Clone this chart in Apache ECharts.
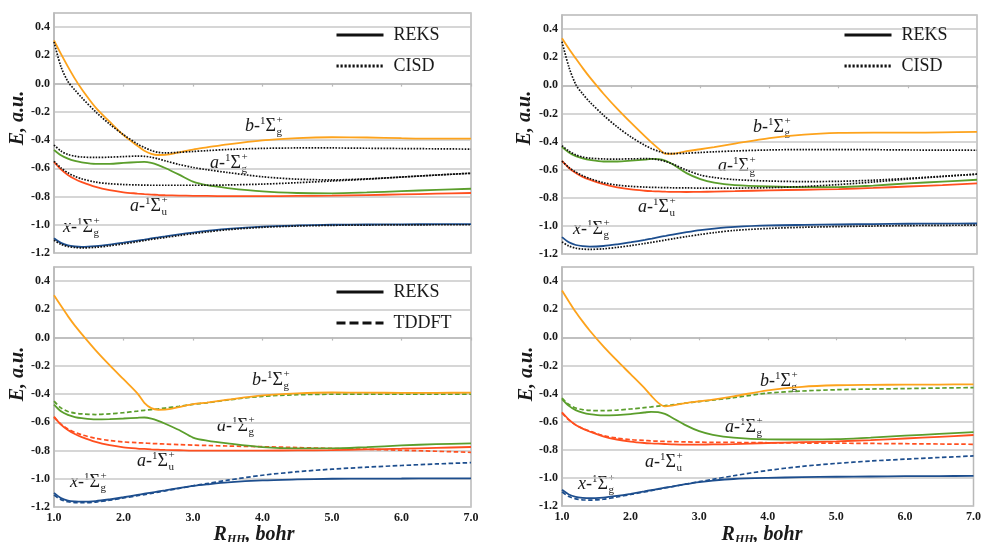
<!DOCTYPE html>
<html>
<head>
<meta charset="utf-8">
<script src="https://cdn.jsdelivr.net/npm/echarts@6/dist/echarts.min.js"></script>
<style>
  html, body { margin: 0; padding: 0; background: #fff; }
  #chart { width: 984px; height: 542px; }
</style>
</head>
<body>
<div id="chart"></div>
<script>
// internuclear distance R_HH, bohr
const X = [1.0, 1.1, 1.2, 1.3, 1.4, 1.6, 1.8, 2.0, 2.2, 2.3, 2.4, 2.5, 2.6, 2.8, 3.0, 3.2, 3.5, 4.0, 4.5, 5.0, 5.5, 6.0, 6.5, 7.0];

// top left: REKS vs CISD
const tlOrange     = [0.305, 0.21, 0.12, 0.035, -0.04, -0.17, -0.27, -0.365, -0.44, -0.476, -0.498, -0.506, -0.505, -0.487, -0.467, -0.452, -0.43, -0.402, -0.386, -0.38, -0.382, -0.387, -0.39, -0.39];
const tlOrangeCisd = [0.295, 0.12, 0.015, -0.045, -0.10, -0.20, -0.287, -0.362, -0.427, -0.453, -0.474, -0.487, -0.491, -0.487, -0.481, -0.475, -0.467, -0.459, -0.456, -0.456, -0.458, -0.46, -0.462, -0.464];
const tlGreen      = [-0.47, -0.508, -0.532, -0.548, -0.558, -0.568, -0.568, -0.562, -0.556, -0.554, -0.562, -0.578, -0.598, -0.645, -0.695, -0.72, -0.74, -0.764, -0.775, -0.777, -0.771, -0.762, -0.753, -0.745];
const tlGreenCisd  = [-0.435, -0.478, -0.502, -0.514, -0.52, -0.523, -0.521, -0.517, -0.514, -0.515, -0.522, -0.533, -0.547, -0.573, -0.594, -0.61, -0.63, -0.66, -0.677, -0.682, -0.675, -0.662, -0.648, -0.635];
const tlRed        = [-0.555, -0.608, -0.647, -0.676, -0.698, -0.732, -0.755, -0.77, -0.779, -0.783, -0.786, -0.789, -0.791, -0.793, -0.795, -0.796, -0.797, -0.797, -0.796, -0.794, -0.79, -0.785, -0.78, -0.775];
const tlRedCisd    = [-0.55, -0.597, -0.632, -0.657, -0.675, -0.698, -0.709, -0.715, -0.718, -0.719, -0.72, -0.72, -0.72, -0.72, -0.72, -0.72, -0.718, -0.712, -0.702, -0.69, -0.677, -0.662, -0.648, -0.635];
const tlBlue       = [-1.095, -1.128, -1.146, -1.154, -1.157, -1.152, -1.141, -1.127, -1.112, -1.105, -1.097, -1.09, -1.083, -1.068, -1.055, -1.044, -1.029, -1.013, -1.005, -1.0, -0.998, -0.997, -0.996, -0.995];
const tlBlueCisd   = [-1.11, -1.138, -1.154, -1.161, -1.164, -1.16, -1.149, -1.135, -1.12, -1.112, -1.104, -1.097, -1.09, -1.076, -1.063, -1.051, -1.035, -1.018, -1.009, -1.004, -1.002, -1.001, -1.0, -1.0];

// top right: REKS vs CISD
const trOrange     = [0.335, 0.26, 0.19, 0.122, 0.058, -0.06, -0.168, -0.268, -0.364, -0.41, -0.452, -0.488, -0.487, -0.469, -0.455, -0.44, -0.415, -0.376, -0.351, -0.339, -0.337, -0.337, -0.335, -0.332];
const trOrangeCisd = [0.31, 0.13, 0.005, -0.062, -0.118, -0.213, -0.297, -0.368, -0.428, -0.452, -0.47, -0.483, -0.486, -0.483, -0.478, -0.473, -0.467, -0.46, -0.457, -0.457, -0.458, -0.46, -0.461, -0.462];
const trGreen      = [-0.438, -0.478, -0.504, -0.52, -0.531, -0.542, -0.542, -0.536, -0.528, -0.524, -0.525, -0.537, -0.562, -0.625, -0.668, -0.693, -0.71, -0.72, -0.724, -0.724, -0.713, -0.698, -0.685, -0.672];
const trGreenCisd  = [-0.43, -0.468, -0.495, -0.51, -0.518, -0.524, -0.525, -0.523, -0.522, -0.523, -0.53, -0.542, -0.56, -0.603, -0.638, -0.656, -0.671, -0.681, -0.685, -0.683, -0.675, -0.662, -0.647, -0.632];
const trRed        = [-0.538, -0.588, -0.624, -0.651, -0.671, -0.703, -0.726, -0.741, -0.75, -0.753, -0.755, -0.757, -0.758, -0.759, -0.758, -0.756, -0.753, -0.747, -0.743, -0.738, -0.73, -0.72, -0.71, -0.698];
const trRedCisd    = [-0.54, -0.585, -0.618, -0.643, -0.663, -0.693, -0.71, -0.719, -0.724, -0.726, -0.727, -0.728, -0.729, -0.73, -0.731, -0.731, -0.731, -0.728, -0.72, -0.706, -0.688, -0.667, -0.649, -0.632];
const trBlue       = [-1.08, -1.117, -1.136, -1.144, -1.147, -1.143, -1.131, -1.116, -1.099, -1.09, -1.08, -1.071, -1.062, -1.045, -1.03, -1.019, -1.007, -0.997, -0.993, -0.99, -0.987, -0.985, -0.984, -0.983];
const trBlueCisd   = [-1.115, -1.143, -1.158, -1.165, -1.167, -1.163, -1.153, -1.14, -1.125, -1.117, -1.109, -1.1, -1.092, -1.076, -1.061, -1.048, -1.032, -1.018, -1.01, -1.005, -1.001, -0.998, -0.996, -0.995];

// bottom left: REKS vs TDDFT
const blOrange     = [0.30, 0.225, 0.152, 0.085, 0.025, -0.09, -0.195, -0.295, -0.395, -0.462, -0.5, -0.511, -0.51, -0.492, -0.472, -0.46, -0.44, -0.41, -0.395, -0.389, -0.39, -0.391, -0.391, -0.39];
const blGreenTddft = [-0.45, -0.498, -0.523, -0.535, -0.54, -0.545, -0.54, -0.532, -0.521, -0.515, -0.51, -0.505, -0.499, -0.487, -0.473, -0.462, -0.442, -0.416, -0.405, -0.401, -0.40, -0.40, -0.40, -0.40];
const blGreen      = [-0.475, -0.522, -0.548, -0.563, -0.571, -0.579, -0.577, -0.573, -0.568, -0.566, -0.574, -0.59, -0.61, -0.655, -0.708, -0.73, -0.75, -0.776, -0.785, -0.785, -0.776, -0.764, -0.755, -0.749];
const blRed        = [-0.56, -0.617, -0.655, -0.683, -0.705, -0.739, -0.762, -0.777, -0.786, -0.789, -0.792, -0.794, -0.796, -0.798, -0.80, -0.80, -0.80, -0.80, -0.799, -0.797, -0.792, -0.787, -0.781, -0.775];
const blRedTddft   = [-0.565, -0.613, -0.647, -0.671, -0.689, -0.714, -0.729, -0.739, -0.745, -0.747, -0.75, -0.752, -0.754, -0.758, -0.762, -0.764, -0.768, -0.773, -0.779, -0.785, -0.791, -0.798, -0.805, -0.813];
const blBlue       = [-1.10, -1.137, -1.154, -1.16, -1.162, -1.158, -1.146, -1.131, -1.114, -1.106, -1.098, -1.09, -1.082, -1.066, -1.051, -1.04, -1.026, -1.012, -1.005, -1.0, -0.999, -0.998, -0.997, -0.997];
const blBlueTddft  = [-1.115, -1.148, -1.163, -1.169, -1.17, -1.165, -1.152, -1.136, -1.12, -1.112, -1.103, -1.095, -1.086, -1.068, -1.05, -1.034, -1.01, -0.975, -0.95, -0.932, -0.918, -0.906, -0.895, -0.886];

// bottom right: REKS vs TDDFT
const brOrange     = [0.333, 0.255, 0.18, 0.113, 0.05, -0.063, -0.165, -0.262, -0.36, -0.415, -0.465, -0.492, -0.486, -0.468, -0.455, -0.443, -0.42, -0.377, -0.352, -0.341, -0.338, -0.337, -0.336, -0.335];
const brGreenTddft = [-0.432, -0.478, -0.503, -0.514, -0.52, -0.522, -0.518, -0.51, -0.50, -0.495, -0.49, -0.486, -0.481, -0.468, -0.457, -0.447, -0.43, -0.397, -0.382, -0.373, -0.368, -0.365, -0.361, -0.358];
const brGreen      = [-0.44, -0.488, -0.518, -0.536, -0.547, -0.556, -0.553, -0.546, -0.535, -0.53, -0.532, -0.545, -0.57, -0.625, -0.668, -0.694, -0.714, -0.726, -0.727, -0.725, -0.713, -0.70, -0.687, -0.674];
const brRed        = [-0.533, -0.585, -0.623, -0.65, -0.67, -0.704, -0.727, -0.742, -0.752, -0.755, -0.757, -0.759, -0.761, -0.763, -0.763, -0.762, -0.76, -0.752, -0.746, -0.74, -0.731, -0.72, -0.708, -0.695];
const brRedTddft   = [-0.54, -0.588, -0.623, -0.648, -0.667, -0.699, -0.717, -0.728, -0.734, -0.737, -0.739, -0.741, -0.742, -0.744, -0.746, -0.747, -0.748, -0.75, -0.752, -0.753, -0.755, -0.757, -0.759, -0.761];
const brBlue       = [-1.085, -1.118, -1.135, -1.142, -1.145, -1.14, -1.128, -1.113, -1.096, -1.087, -1.079, -1.07, -1.062, -1.045, -1.03, -1.019, -1.008, -1.0, -0.995, -0.992, -0.99, -0.988, -0.987, -0.986];
const brBlueTddft  = [-1.10, -1.133, -1.149, -1.156, -1.158, -1.152, -1.136, -1.118, -1.10, -1.091, -1.081, -1.072, -1.063, -1.045, -1.027, -1.01, -0.985, -0.947, -0.918, -0.897, -0.88, -0.867, -0.855, -0.844];

const ORANGE = '#fda31c', GREEN = '#5b9e2c', RED = '#ff4f1f', BLUE = '#1d4e8e';
const SERIF = '"Liberation Serif", "DejaVu Serif", serif';

// plot boxes, pixels
const boxes = [
  { left: 54,  top: 13,  width: 417, height: 240, xLabels: false },
  { left: 562, top: 15,  width: 415, height: 239, xLabels: false },
  { left: 54,  top: 267, width: 417, height: 240, xLabels: true },
  { left: 562, top: 267, width: 417, height: 239, xLabels: true }
];

const fmt = v => (Math.abs(v) < 1e-9 ? '0.0' : v.toFixed(1));

function pts(ys) { return X.map((x, i) => [x, ys[i]]); }

function line(name, idx, ys, color, kind) {
  let lineStyle = { color: color, width: 1.8, type: 'solid' };
  if (kind === 'dot') lineStyle = { color: '#111', width: 1.7, type: [1.6, 1.4] };
  if (kind === 'dash') lineStyle = { color: color, width: 1.7, type: [4.5, 2.5] };
  return {
    name: name, type: 'line', xAxisIndex: idx, yAxisIndex: idx,
    data: pts(ys), symbol: 'none', smooth: 0.3,
    lineStyle: lineStyle, z: kind === 'dot' ? 3 : 2, silent: true
  };
}

const series = [
  line('tl b', 0, tlOrange, ORANGE), line('tl ag', 0, tlGreen, GREEN), line('tl au', 0, tlRed, RED), line('tl x', 0, tlBlue, BLUE),
  line('tl b cisd', 0, tlOrangeCisd, null, 'dot'), line('tl ag cisd', 0, tlGreenCisd, null, 'dot'),
  line('tl au cisd', 0, tlRedCisd, null, 'dot'), line('tl x cisd', 0, tlBlueCisd, null, 'dot'),

  line('tr b', 1, trOrange, ORANGE), line('tr ag', 1, trGreen, GREEN), line('tr au', 1, trRed, RED), line('tr x', 1, trBlue, BLUE),
  line('tr b cisd', 1, trOrangeCisd, null, 'dot'), line('tr ag cisd', 1, trGreenCisd, null, 'dot'),
  line('tr au cisd', 1, trRedCisd, null, 'dot'), line('tr x cisd', 1, trBlueCisd, null, 'dot'),

  line('bl ag tddft', 2, blGreenTddft, GREEN, 'dash'), line('bl au tddft', 2, blRedTddft, RED, 'dash'), line('bl x tddft', 2, blBlueTddft, BLUE, 'dash'),
  line('bl b', 2, blOrange, ORANGE), line('bl ag', 2, blGreen, GREEN), line('bl au', 2, blRed, RED), line('bl x', 2, blBlue, BLUE),

  line('br ag tddft', 3, brGreenTddft, GREEN, 'dash'), line('br au tddft', 3, brRedTddft, RED, 'dash'), line('br x tddft', 3, brBlueTddft, BLUE, 'dash'),
  line('br b', 3, brOrange, ORANGE), line('br ag', 3, brGreen, GREEN), line('br au', 3, brRed, RED), line('br x', 3, brBlue, BLUE),

  // legend keys only
  { name: 'REKS', type: 'line', xAxisIndex: 0, yAxisIndex: 0, data: [], symbol: 'none', lineStyle: { color: '#111', width: 3 } },
  { name: 'CISD', type: 'line', xAxisIndex: 0, yAxisIndex: 0, data: [], symbol: 'none', lineStyle: { color: '#111', width: 3, type: [2.2, 1.8] } },
  { name: 'TDDFT', type: 'line', xAxisIndex: 2, yAxisIndex: 2, data: [], symbol: 'none', lineStyle: { color: '#111', width: 3, type: [9, 4] } }
];

function legendAt(left, top, names) {
  return {
    left: left, top: top, orient: 'vertical', padding: 0,
    itemWidth: 47, itemHeight: 14, itemGap: 13, selectedMode: false,
    itemStyle: { opacity: 0 }, lineStyle: { width: 3 }, data: names,
    textStyle: { fontFamily: SERIF, fontSize: 18, color: '#1a1a1a', padding: [0, 0, 0, 5] }
  };
}

// text pieces for the state labels
const meas = document.createElement('canvas').getContext('2d');
function tw(text, font) { meas.font = font; return meas.measureText(text).width; }
function piece(x, base, text, size, italic) {
  const font = (italic ? 'italic ' : '') + size + 'px ' + SERIF;
  return { el: { type: 'text', x: x, y: base - 0.33 * size, silent: true,
    style: { text: text, font: font, fill: '#1a1a1a', verticalAlign: 'middle' } }, w: tw(text, font) };
}
function stateLabel(x0, base, letter, sub) {
  const big = 18, small = 11;
  const els = [];
  let x = x0, p;
  p = piece(x, base, letter, big, true); els.push(p.el); x += p.w;
  p = piece(x, base, '-', big, false); els.push(p.el); x += p.w;
  p = piece(x, base - 7, '1', small, false); els.push(p.el); x += p.w;
  p = piece(x, base, 'Σ', big, false); els.push(p.el); x += p.w + 0.5;
  els.push(piece(x, base - 8, '+', small, false).el);
  els.push(piece(x, base + 4, sub, small, false).el);
  return els;
}

const labels = [
  [245, 132, 'b', 'g'], [210, 169, 'a', 'g'], [130, 212, 'a', 'u'], [63, 233, 'x', 'g'],
  [753, 133, 'b', 'g'], [718, 172, 'a', 'g'], [638, 213, 'a', 'u'], [573, 235, 'x', 'g'],
  [252, 386, 'b', 'g'], [217, 432, 'a', 'g'], [137, 467, 'a', 'u'], [70, 488, 'x', 'g'],
  [760, 387, 'b', 'g'], [725, 433, 'a', 'g'], [645, 468, 'a', 'u'], [578, 490, 'x', 'g']
];

let graphics = [];
labels.forEach(l => { graphics = graphics.concat(stateLabel(l[0], l[1], l[2], l[3])); });

// axis titles
[[18, 118], [525, 118], [18, 374], [527, 374]].forEach(c => {
  graphics.push({ type: 'text', x: c[0], y: c[1], rotation: Math.PI / 2, silent: true,
    style: { text: 'E, a.u.', font: 'italic bold 20px ' + SERIF, fill: '#1a1a1a', align: 'center', verticalAlign: 'middle' } });
});
[254, 762].forEach(cx => {
  graphics.push({ type: 'text', x: cx, y: 524, silent: true,
    style: { text: '{r|R}{s|HH}{r|, bohr}', align: 'center', verticalAlign: 'top', fill: '#1a1a1a',
      rich: { r: { font: 'italic bold 20px ' + SERIF, fill: '#1a1a1a' },
              s: { font: 'italic bold 12px ' + SERIF, fill: '#1a1a1a', verticalAlign: 'bottom', padding: [10, 0, 0, 0] } } } });
});

const option = {
  animation: false,
  backgroundColor: '#fff',
  grid: boxes.map(b => ({ left: b.left, top: b.top, width: b.width, height: b.height,
    show: true, borderColor: '#b9b9b9', borderWidth: 1.5, containLabel: false })),
  xAxis: boxes.map((b, i) => ({
    type: 'value', gridIndex: i, min: 1, max: 7, interval: 1,
    axisLine: { show: true, lineStyle: { color: '#b9b9b9', width: 1.5 } },
    axisTick: { show: true, length: 3, lineStyle: { color: '#b9b9b9', width: 1.2 } },
    splitLine: { show: false },
    axisLabel: { show: b.xLabels, margin: 5, formatter: fmt, fontFamily: SERIF, fontWeight: 'bold', fontSize: 12, color: '#1a1a1a' }
  })),
  yAxis: boxes.map((b, i) => ({
    type: 'value', gridIndex: i, min: -1.2, max: 0.5, interval: 0.2,
    axisLine: { show: true, lineStyle: { color: '#b9b9b9', width: 1.5 } },
    axisTick: { show: false },
    splitLine: { show: true, lineStyle: { color: '#c9c9c9', width: 1.5 } },
    axisLabel: { margin: 4, showMaxLabel: false, formatter: fmt, fontFamily: SERIF, fontWeight: 'bold', fontSize: 12, color: '#1a1a1a' }
  })),
  legend: [
    legendAt(335, 26, ['REKS', 'CISD']),
    legendAt(843, 26, ['REKS', 'CISD']),
    legendAt(335, 283, ['REKS', 'TDDFT'])
  ],
  series: series,
  graphic: graphics
};

const chart = echarts.init(document.getElementById('chart'), null, { renderer: 'canvas' });
chart.setOption(option);
</script>
</body>
</html>
